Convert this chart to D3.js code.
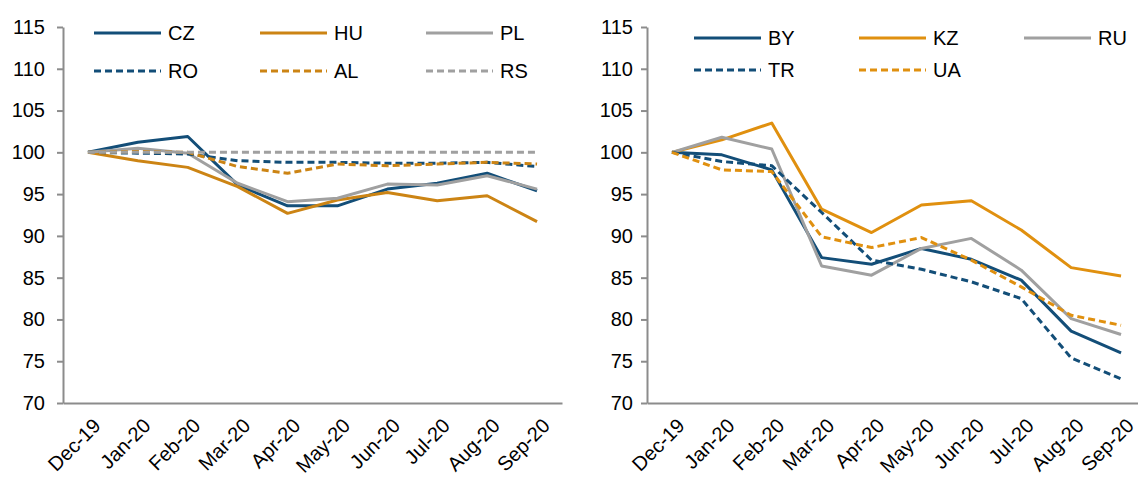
<!DOCTYPE html>
<html>
<head>
<meta charset="utf-8">
<script src="https://cdn.jsdelivr.net/npm/d3@7"></script>
<style>
  html, body { margin: 0; padding: 0; background: #fff; }
  svg { display: block; font-family: "Liberation Sans", Arial, sans-serif; }
</style>
</head>
<body>
<svg id="chart" width="1138" height="478"></svg>
<script>
// Month categories and y-axis ticks shared by both panels
const months = ["Dec-19", "Jan-20", "Feb-20", "Mar-20", "Apr-20", "May-20", "Jun-20", "Jul-20", "Aug-20", "Sep-20"];
const yTicks = [70, 75, 80, 85, 90, 95, 100, 105, 110, 115];

// Left panel: Central & South-East Europe (index, Dec-19 = 100)
const cz = [100, 101.2, 101.9, 96.1, 93.6, 93.6, 95.6, 96.3, 97.5, 95.4];
const hu = [100, 99.0, 98.2, 95.9, 92.7, 94.3, 95.2, 94.2, 94.8, 91.7];
const pl = [100, 100.5, 99.9, 96.3, 94.1, 94.5, 96.2, 96.1, 97.2, 95.6];
const ro = [100, 99.9, 99.8, 99.0, 98.8, 98.8, 98.7, 98.7, 98.8, 98.3];
const al = [100, 100.1, 100.0, 98.3, 97.5, 98.6, 98.4, 98.6, 98.8, 98.6];
const rs = [100, 100, 100, 100, 100, 100, 100, 100, 100, 100];

// Right panel: CIS & Turkey (index, Dec-19 = 100)
const by = [100, 99.7, 97.9, 87.4, 86.6, 88.5, 87.2, 84.7, 78.6, 76.0];
const kz = [100, 101.5, 103.5, 93.2, 90.4, 93.7, 94.2, 90.7, 86.2, 85.2];
const ru = [100, 101.8, 100.4, 86.4, 85.3, 88.5, 89.7, 85.9, 80.1, 78.2];
const tr = [100, 98.9, 98.4, 92.8, 87.1, 86.0, 84.5, 82.5, 75.4, 72.9];
const ua = [100, 97.9, 97.7, 89.9, 88.6, 89.8, 87.1, 83.9, 80.5, 79.3];

const BLUE = "#134e78", GREY = "#a0a0a0", AXIS = "#8c8c8c";

const panels = [
  {
    left: 63, width: 499, labelPad: 12, orange: "#cc8414",
    legendX: [94, 260, 426], legendY: [33, 71],
    series: [
      { name: "CZ", values: cz, color: BLUE, dash: null },
      { name: "HU", values: hu, color: "orange", dash: null },
      { name: "PL", values: pl, color: GREY, dash: null },
      { name: "RO", values: ro, color: BLUE, dash: "7,4" },
      { name: "AL", values: al, color: "orange", dash: "7,4" },
      { name: "RS", values: rs, color: GREY, dash: "7,4" }
    ]
  },
  {
    left: 647, width: 499, labelPad: 8, orange: "#e0900f",
    legendX: [694, 859, 1024], legendY: [38, 70],
    series: [
      { name: "BY", values: by, color: BLUE, dash: null },
      { name: "KZ", values: kz, color: "orange", dash: null },
      { name: "RU", values: ru, color: GREY, dash: null },
      { name: "TR", values: tr, color: BLUE, dash: "7,4" },
      { name: "UA", values: ua, color: "orange", dash: "7,4" }
    ]
  }
];

const svg = d3.select("#chart");
svg.append("rect").attr("width", 1138).attr("height", 478).attr("fill", "#fff");

const plotTop = 27, plotBottom = 403;

panels.forEach(p => {
  const colorOf = s => s.color === "orange" ? p.orange : s.color;
  const g = svg.append("g");

  const x = d3.scaleBand().domain(months).range([p.left, p.left + p.width]);
  const y = d3.scaleLinear().domain([70, 115]).range([plotBottom, plotTop]);

  // y axis
  const yAxis = g.append("g")
    .attr("transform", `translate(${p.left},0)`)
    .call(d3.axisLeft(y).tickValues(yTicks).tickSize(6).tickPadding(p.labelPad).tickSizeOuter(0));
  yAxis.select(".domain").attr("stroke", AXIS).attr("stroke-width", 2);
  yAxis.selectAll(".tick line").attr("stroke", AXIS).attr("stroke-width", 2);
  yAxis.selectAll(".tick text").attr("fill", "#000").attr("font-size", 20)
    .attr("font-family", "Liberation Sans, Arial, sans-serif");

  // x axis (category labels, no tick marks)
  const xAxis = g.append("g")
    .attr("transform", `translate(0,${plotBottom})`)
    .call(d3.axisBottom(x).tickSize(0).tickSizeOuter(0));
  xAxis.select(".domain").attr("stroke", AXIS).attr("stroke-width", 2);
  xAxis.selectAll(".tick text")
    .attr("fill", "#000").attr("font-size", 20)
    .attr("font-family", "Liberation Sans, Arial, sans-serif")
    .attr("text-anchor", "end")
    .attr("dy", "0.35em")
    .attr("transform", "translate(9,19) rotate(-45)")
    .attr("y", 0).attr("x", 0);

  // series lines
  const line = d3.line()
    .x((d, i) => x(months[i]) + x.bandwidth() / 2)
    .y(d => y(d));

  p.series.forEach(s => {
    g.append("path")
      .datum(s.values)
      .attr("d", line)
      .attr("fill", "none")
      .attr("stroke", colorOf(s))
      .attr("stroke-width", 3)
      .attr("stroke-dasharray", s.dash)
      .attr("stroke-linejoin", "round");
  });

  // legend: three columns, two rows
  p.series.forEach((s, i) => {
    const lx = p.legendX[i % 3];
    const ly = p.legendY[Math.floor(i / 3)];
    const item = g.append("g").attr("transform", `translate(${lx},${ly})`);
    item.append("line")
      .attr("x1", 0).attr("x2", 67).attr("y1", 0).attr("y2", 0)
      .attr("stroke", colorOf(s)).attr("stroke-width", 3)
      .attr("stroke-dasharray", s.dash);
    item.append("text")
      .attr("x", 74).attr("y", 0).attr("dy", "0.35em")
      .attr("font-size", 20).attr("fill", "#000")
      .text(s.name);
  });
});
</script>
</body>
</html>
